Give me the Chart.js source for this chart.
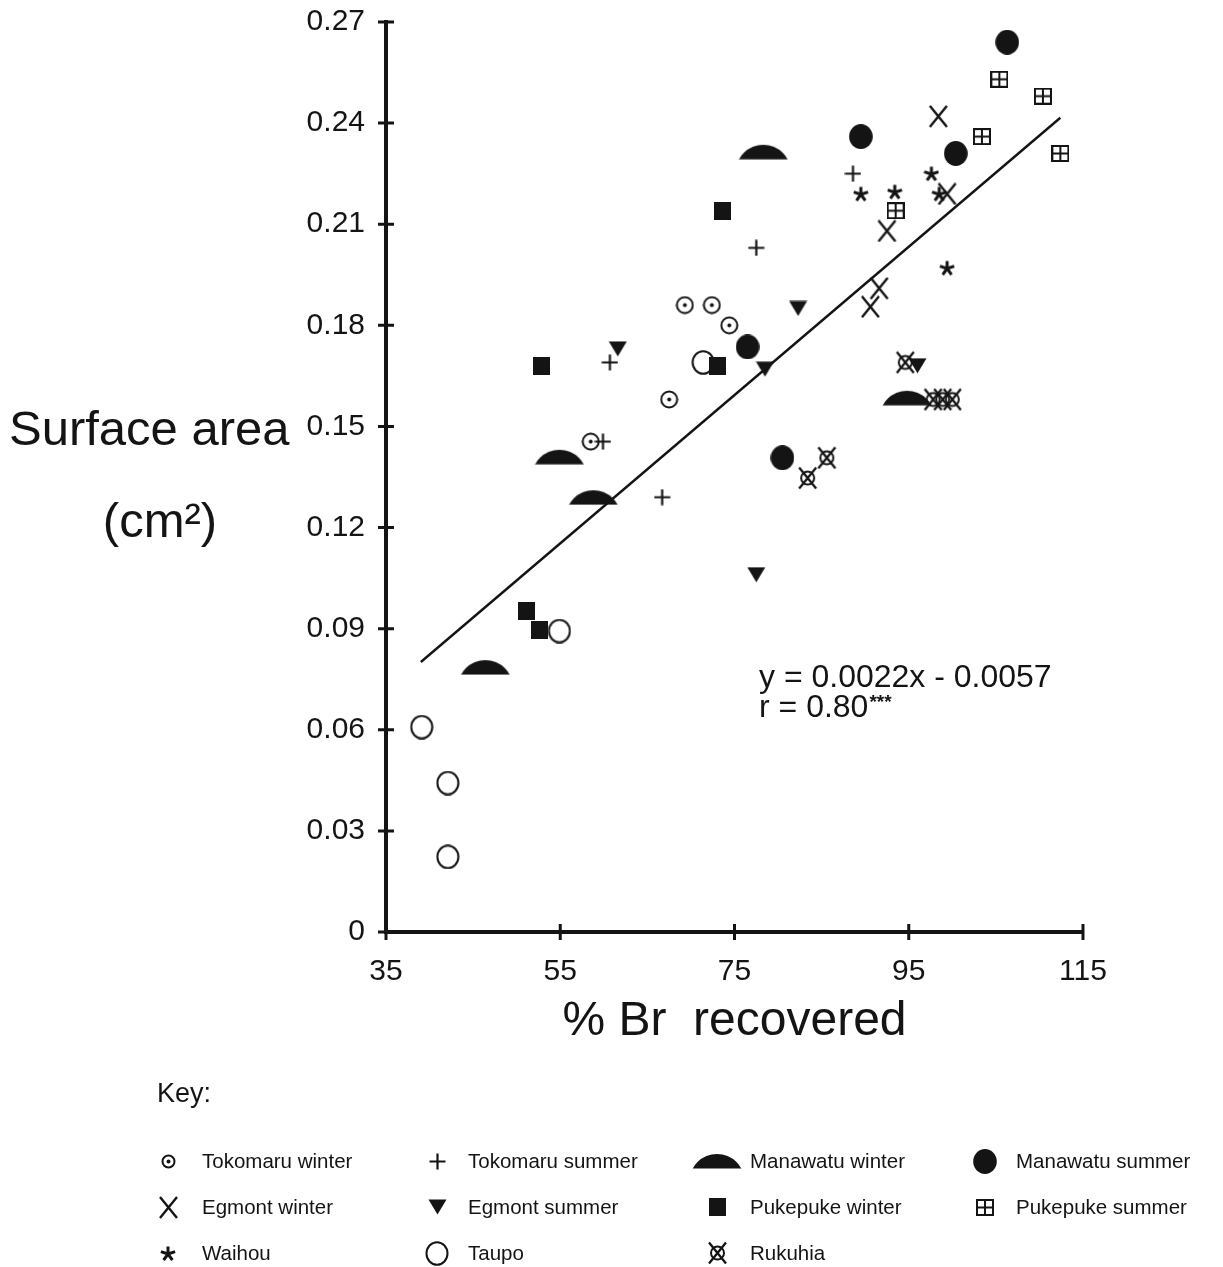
<!DOCTYPE html>
<html>
<head>
<meta charset="utf-8">
<title>Surface area vs % Br recovered</title>
<script src="https://cdn.jsdelivr.net/npm/chart.js@4.4.1/dist/chart.umd.min.js"></script>
<style>
  html, body { margin: 0; padding: 0; background: #fff; }
  #wrap { width: 1223px; height: 1267px; }
</style>
</head>
<body>
<div id="wrap"><canvas id="brChart" width="1223" height="1267"></canvas></div>
<script>
// --- data: % Br recovered (x) vs surface area in cm2 (y), one pair of arrays per site/season
const tokWinterX = [69.3, 72.4, 74.4, 67.5, 58.5]
const tokWinterY = [0.186, 0.186, 0.180, 0.158, 0.1455]
const tokSummerX = [88.6, 77.5, 60.7, 59.9, 66.7]
const tokSummerY = [0.225, 0.203, 0.169, 0.1455, 0.129]
const manWinterX = [78.3, 54.9, 58.8, 94.8, 46.4]
const manWinterY = [0.2315, 0.141, 0.129, 0.1585, 0.0786]
const manSummerX = [106.3, 89.5, 100.4, 76.5, 80.5]
const manSummerY = [0.264, 0.236, 0.231, 0.1736, 0.1407]
const egmWinterX = [98.4, 99.4, 92.5, 91.6, 90.6]
const egmWinterY = [0.242, 0.219, 0.208, 0.191, 0.1855]
const egmSummerX = [82.3, 78.5, 61.6, 77.5, 96.0]
const egmSummerY = [0.185, 0.167, 0.173, 0.106, 0.168]
const pukWinterX = [73.6, 73.0, 52.9, 51.1, 52.6]
const pukWinterY = [0.214, 0.168, 0.168, 0.0953, 0.0896]
const pukSummerX = [105.4, 110.4, 103.4, 112.4, 93.5]
const pukSummerY = [0.253, 0.248, 0.236, 0.231, 0.214]
const waihouX = [89.5, 93.4, 97.6, 98.5, 99.4]
const waihouY = [0.219, 0.2196, 0.225, 0.219, 0.197]
const taupoX = [71.4, 54.9, 39.1, 42.1, 42.1]
const taupoY = [0.169, 0.0893, 0.0608, 0.0442, 0.0223]
const rukuhiaX = [94.6, 97.8, 98.9, 100.0, 85.6, 83.4]
const rukuhiaY = [0.169, 0.158, 0.158, 0.158, 0.1407, 0.1347]

// fitted line, as printed on the plot
const SLOPE = 0.0022
const INTERCEPT = -0.0057
const R_VALUE = '0.80'
const FIT_X = [39.0, 112.4]

// axes
const X_TICKS = [35, 55, 75, 95, 115]
const Y_TICKS = [0, 0.03, 0.06, 0.09, 0.12, 0.15, 0.18, 0.21, 0.24, 0.27]

const INK = '#141414'
const SANS = '"Liberation Sans", Arial, Helvetica, sans-serif'

// ---- marker glyphs, drawn once into small canvases and used as pointStyle
function makeMarker(w, h, draw) {
  const c = document.createElement('canvas')
  c.width = w
  c.height = h
  const g = c.getContext('2d')
  g.fillStyle = INK
  g.strokeStyle = INK
  g.lineCap = 'butt'
  draw(g, w, h)
  return c
}

function dotCircle(size) {
  return makeMarker(size, size, (g, w) => {
    const r = w / 2
    g.lineWidth = 2
    g.beginPath(); g.arc(r, r, r - 1.5, 0, Math.PI * 2); g.stroke()
    g.beginPath(); g.arc(r, r, 2, 0, Math.PI * 2); g.fill()
  })
}

const plusMark = makeMarker(17, 17, g => {
  g.lineWidth = 2.2
  g.beginPath()
  g.moveTo(8.5, 0.5); g.lineTo(8.5, 16.5)
  g.moveTo(0.5, 8.5); g.lineTo(16.5, 8.5)
  g.stroke()
})

const halfDisk = makeMarker(50, 16, (g, w) => {
  // flat-based dome: a slice of a big circle cut along its chord
  const R = 27.6
  g.save()
  g.beginPath(); g.rect(0, 0, w, 15.5); g.clip()
  g.beginPath(); g.arc(w / 2, 1 + R, R, 0, Math.PI * 2); g.fill()
  g.restore()
})

const disk = makeMarker(24, 25, g => {
  g.beginPath(); g.ellipse(12, 12.5, 11.8, 12.4, 0, 0, Math.PI * 2); g.fill()
})

const bigX = makeMarker(21, 23, g => {
  g.lineWidth = 2.4
  g.beginPath()
  g.moveTo(2, 1); g.lineTo(19, 22)
  g.moveTo(19, 1); g.lineTo(2, 22)
  g.stroke()
})

const triDown = makeMarker(19, 16, g => {
  g.beginPath(); g.moveTo(0.5, 0.5); g.lineTo(18.5, 0.5); g.lineTo(9.5, 15.5); g.closePath(); g.fill()
})

const square = makeMarker(17, 18, g => { g.fillRect(0, 0, 17, 18) })

const boxCross = makeMarker(18, 17, g => {
  g.lineWidth = 2
  g.strokeRect(1, 1, 16, 15)
  g.beginPath()
  g.moveTo(9, 1); g.lineTo(9, 16)
  g.moveTo(1, 8.5); g.lineTo(17, 8.5)
  g.stroke()
})

const asterisk = makeMarker(16, 17, g => {
  g.lineWidth = 3
  g.beginPath()
  for (let k = 0; k < 5; k++) {
    const a = -Math.PI / 2 + k * 2 * Math.PI / 5
    g.moveTo(8, 9)
    g.lineTo(8 + Math.cos(a) * 7.5, 9 + Math.sin(a) * 7.5)
  }
  g.stroke()
})

const ringO = makeMarker(24, 25, g => {
  g.lineWidth = 2
  g.beginPath(); g.ellipse(12, 12.5, 10.5, 11.3, 0, 0, Math.PI * 2); g.stroke()
})

const crossedRing = makeMarker(21, 24, g => {
  g.lineWidth = 2
  g.beginPath(); g.arc(10.5, 12, 6.5, 0, Math.PI * 2); g.stroke()
  g.lineWidth = 2.3
  g.beginPath()
  g.moveTo(2, 1.5); g.lineTo(19, 22.5)
  g.moveTo(19, 1.5); g.lineTo(2, 22.5)
  g.stroke()
})

function pts(xs, ys) {
  return xs.map((x, i) => ({ x: x, y: ys[i] }))
}

// order follows the key: row by row, left to right
const series = [
  { label: 'Tokomaru winter', xs: tokWinterX, ys: tokWinterY, mark: dotCircle(19), key: dotCircle(15) },
  { label: 'Tokomaru summer', xs: tokSummerX, ys: tokSummerY, mark: plusMark },
  { label: 'Manawatu winter', xs: manWinterX, ys: manWinterY, mark: halfDisk },
  { label: 'Manawatu summer', xs: manSummerX, ys: manSummerY, mark: disk },
  { label: 'Egmont winter', xs: egmWinterX, ys: egmWinterY, mark: bigX },
  { label: 'Egmont summer', xs: egmSummerX, ys: egmSummerY, mark: triDown },
  { label: 'Pukepuke winter', xs: pukWinterX, ys: pukWinterY, mark: square },
  { label: 'Pukepuke summer', xs: pukSummerX, ys: pukSummerY, mark: boxCross },
  { label: 'Waihou', xs: waihouX, ys: waihouY, mark: asterisk },
  { label: 'Taupo', xs: taupoX, ys: taupoY, mark: ringO },
  { label: 'Rukuhia', xs: rukuhiaX, ys: rukuhiaY, mark: crossedRing },
]

const datasets = series.map(s => ({
  type: 'scatter',
  label: s.label,
  data: pts(s.xs, s.ys),
  pointStyle: s.mark,
  pointRadius: 10,
  clip: false,
}))

datasets.push({
  type: 'line',
  label: 'fit',
  data: FIT_X.map(x => ({ x: x, y: SLOPE * x + INTERCEPT })),
  borderColor: INK,
  borderWidth: 2.4,
  pointRadius: 0,
  fill: false,
  tension: 0,
})

// axis ticks that cross the axis line, axis titles, equation and key
const decorations = {
  id: 'decorations',
  afterDraw(chart) {
    const ctx = chart.ctx
    const xs = chart.scales.x
    const ys = chart.scales.y
    const area = chart.chartArea
    ctx.save()
    ctx.strokeStyle = INK
    ctx.fillStyle = INK
    ctx.lineWidth = 3
    ctx.beginPath()
    Y_TICKS.forEach(v => {
      const py = ys.getPixelForValue(v)
      ctx.moveTo(area.left - 8, py); ctx.lineTo(area.left + 8, py)
    })
    X_TICKS.forEach(v => {
      const px = xs.getPixelForValue(v)
      ctx.moveTo(px, area.bottom - 8); ctx.lineTo(px, area.bottom + 8)
    })
    ctx.stroke()

    // axis titles
    ctx.textBaseline = 'alphabetic'
    ctx.textAlign = 'center'
    ctx.font = '48px ' + SANS
    ctx.fillText('% Br  recovered', (area.left + area.right) / 2, 1035)
    ctx.textAlign = 'left'
    ctx.font = '49px ' + SANS
    ctx.fillText('Surface area', 9, 445)
    ctx.textAlign = 'center'
    ctx.fillText('(cm\u00B2)', 160, 537)

    // regression equation
    ctx.textAlign = 'left'
    ctx.font = '32px ' + SANS
    const eq = 'y = ' + SLOPE + 'x - ' + Math.abs(INTERCEPT)
    ctx.fillText(eq, 759, 687)
    const rText = 'r = ' + R_VALUE
    ctx.fillText(rText, 759, 717)
    const rw = ctx.measureText(rText).width
    ctx.font = 'bold 19px ' + SANS
    ctx.fillText('***', 759 + rw + 1, 708)

    // key
    ctx.font = '27px ' + SANS
    ctx.fillText('Key:', 157, 1102)
    const colSym = [168, 437, 717, 985]
    const colText = [202, 468, 750, 1016]
    const rowBase = [1168, 1214, 1260]
    ctx.font = '20.5px ' + SANS
    series.forEach((s, i) => {
      const col = i % 4
      const row = Math.floor(i / 4)
      const img = s.key || s.mark
      const cy = rowBase[row] - 7
      ctx.drawImage(img, Math.round(colSym[col] - img.width / 2), Math.round(cy - img.height / 2))
      ctx.fillText(s.label, colText[col], rowBase[row])
    })
    ctx.restore()
  },
}

new Chart(document.getElementById('brChart'), {
  type: 'scatter',
  data: { datasets: datasets },
  options: {
    responsive: false,
    animation: false,
    events: [],
    devicePixelRatio: 1,
    layout: { padding: { left: 0, top: 22, right: 140, bottom: 215 } },
    plugins: {
      legend: { display: false },
      tooltip: { enabled: false },
    },
    scales: {
      x: {
        type: 'linear',
        min: 35,
        max: 115,
        afterFit: s => { s.height = 120; s.paddingLeft = 0; s.paddingRight = 0 },
        afterBuildTicks: s => { s.ticks = X_TICKS.map(v => ({ value: v })) },
        grid: { display: false },
        border: { display: true, color: INK, width: 4 },
        ticks: {
          color: INK,
          padding: 14,
          font: { family: SANS, size: 30 },
          callback: v => String(v),
        },
      },
      y: {
        type: 'linear',
        min: 0,
        max: 0.27,
        afterFit: s => { s.width = 386; s.paddingTop = 0; s.paddingBottom = 0 },
        afterBuildTicks: s => { s.ticks = Y_TICKS.map(v => ({ value: v })) },
        grid: { display: false },
        border: { display: true, color: INK, width: 4 },
        ticks: {
          color: INK,
          padding: 13,
          font: { family: SANS, size: 30 },
          callback: v => (v === 0 ? '0' : v.toFixed(2)),
        },
      },
    },
  },
  plugins: [decorations],
})
</script>
</body>
</html>
